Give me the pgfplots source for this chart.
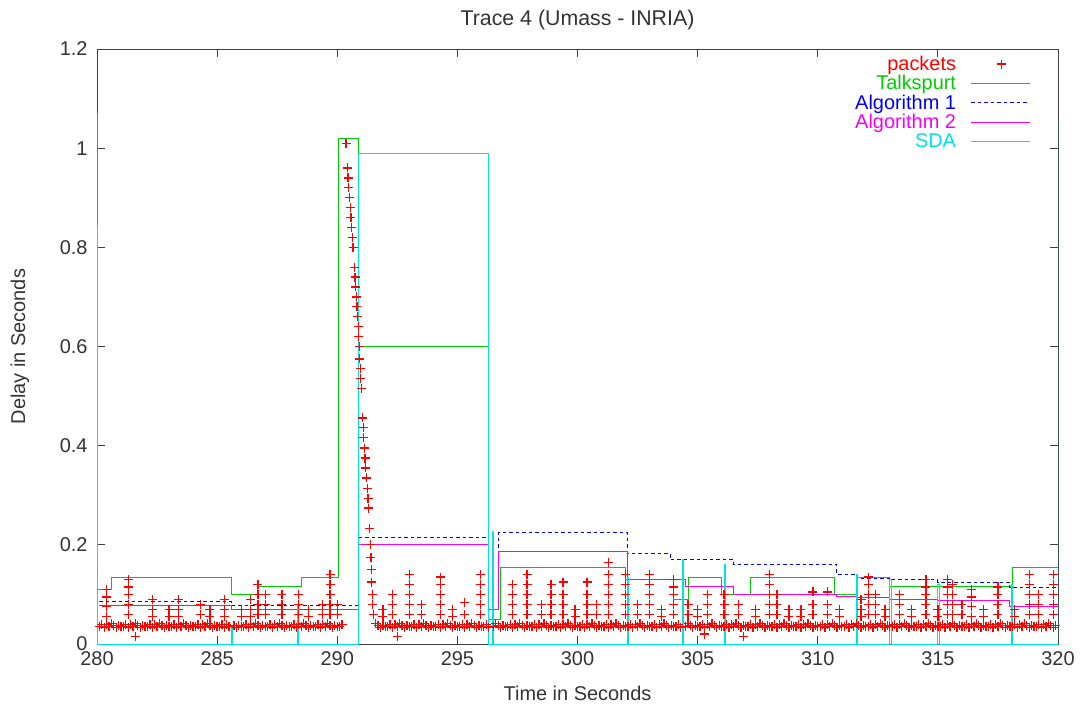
\documentclass[border=0pt]{standalone}
\usepackage{pgfplots}
\pgfplotsset{compat=1.18}
\usepackage{fontspec}
\setmainfont{Liberation Sans}

\definecolor{gpred}{RGB}{255,0,0}
\definecolor{gpgreen}{RGB}{0,205,0}
\definecolor{gpblue}{RGB}{0,0,245}
\definecolor{gpmagenta}{RGB}{245,0,245}
\definecolor{gpcyan}{RGB}{0,225,225}

\pgfplotsset{
  gpline/.style={legend image code/.code={\path (0cm,0cm); \draw[##1] (0.45cm,0cm) -- (2.5cm,0cm);}},
  gpmark/.style={legend image code/.code={\path (0cm,0cm) (2.5cm,0cm); \draw[##1] plot[only marks] coordinates {(1.5cm,0cm)};}},
}

\begin{document}
\begin{tikzpicture}
\begin{axis}[
  scale only axis,
  width=961bp, height=595bp,
  xmin=280, xmax=320, ymin=0, ymax=1.2,
  xtick={280,285,...,320},
  ytick={0,0.2,0.4,0.6,0.8,1,1.2},
  yticklabels={0,0.2,0.4,0.6,0.8,1,1.2},
  tick align=inside,
  major tick length=8bp,
  xtick pos=both, ytick pos=both,
  axis line style={black!75, line width=0.8bp},
  every tick/.style={black!75, line width=0.8bp},
  /pgf/number format/assume math mode=true,
  tick label style={font=\fontsize{20}{24}\selectfont, text=black!80},
  xticklabel style={yshift=-4bp},
  yticklabel style={xshift=-6bp},
  title={Trace 4 (Umass - INRIA)},
  title style={font=\fontsize{21.4}{25}\selectfont, text=black!80,
    at={(axis description cs:0.5,1)}, anchor=center, yshift=23bp},
  xlabel={Time in Seconds},
  xlabel style={font=\fontsize{20}{24}\selectfont, text=black!80,
    at={(axis description cs:0.5,0)}, anchor=center, yshift=-49bp},
  ylabel={Delay in Seconds},
  ylabel style={font=\fontsize{20}{24}\selectfont, text=black!80,
    at={(axis description cs:0,0.5)}, anchor=center, yshift=77bp},
  legend plot pos=right,
  legend cell align=right,
  legend style={draw=none, fill=none, at={(axis cs:318.85,1.19)}, anchor=north east,
    font=\fontsize{20}{19}\selectfont, row sep=-0.6bp, inner sep=0pt},
]

% packets: baseline queue delay, small jitter bursts and the large delay spike
\addplot[only marks, mark=+, mark size=4.5bp, gpred, line width=1.3bp, gpmark]
coordinates {
(280.1,.036)(280.2,.040)(280.3,.034)(280.4,.039)(280.5,.035)(280.6,.041)(280.7,.037)(280.8,.033)(280.9,.038)(281.0,.036)
(281.1,.036)(281.2,.040)(281.3,.034)(281.4,.039)(281.5,.035)(281.6,.041)(281.7,.037)(281.8,.033)(281.9,.038)(282.0,.036)
(282.1,.036)(282.2,.040)(282.3,.034)(282.4,.039)(282.5,.035)(282.6,.041)(282.7,.037)(282.8,.033)(282.9,.038)(283.0,.036)
(283.1,.036)(283.2,.040)(283.3,.034)(283.4,.039)(283.5,.035)(283.6,.041)(283.7,.037)(283.8,.033)(283.9,.038)(284.0,.036)
(284.1,.036)(284.2,.040)(284.3,.034)(284.4,.039)(284.5,.035)(284.6,.041)(284.7,.037)(284.8,.033)(284.9,.038)(285.0,.036)
(285.1,.036)(285.2,.040)(285.3,.034)(285.4,.039)(285.5,.035)(285.7,.037)(285.8,.033)(285.9,.038)(286.0,.036)
(286.1,.036)(286.2,.040)(286.3,.034)(286.4,.039)(286.5,.035)(286.6,.041)(286.7,.037)(286.8,.033)(286.9,.038)(287.0,.036)
(287.1,.036)(287.2,.040)(287.3,.034)(287.4,.039)(287.5,.035)(287.6,.041)(287.7,.037)(287.8,.033)(287.9,.038)(288.0,.036)
(288.1,.036)(288.2,.040)(288.3,.034)(288.4,.039)(288.5,.035)(288.6,.041)(288.7,.037)(288.8,.033)(288.9,.038)(289.0,.036)
(289.1,.036)(289.2,.040)(289.3,.034)(289.4,.039)(289.5,.035)(289.6,.041)(289.7,.037)(289.8,.033)(289.9,.038)(290.0,.036)
(290.1,.036)(290.2,.040)
(291.6,.041)(291.7,.037)(291.8,.033)(291.9,.038)(292.0,.036)
(292.1,.036)(292.2,.040)(292.3,.034)(292.4,.039)(292.5,.035)(292.6,.041)(292.7,.037)(292.8,.033)(292.9,.038)(293.0,.036)
(293.1,.036)(293.2,.040)(293.3,.034)(293.4,.039)(293.5,.035)(293.6,.041)(293.7,.037)(293.8,.033)(293.9,.038)(294.0,.036)
(294.1,.036)(294.2,.040)(294.3,.034)(294.4,.039)(294.5,.035)(294.6,.041)(294.7,.037)(294.8,.033)(294.9,.038)(295.0,.036)
(295.1,.036)(295.2,.040)(295.3,.034)(295.4,.039)(295.5,.035)(295.6,.041)(295.7,.037)(295.8,.033)(295.9,.038)(296.0,.036)
(296.1,.036)(296.2,.040)(296.3,.034)(296.5,.035)(296.6,.041)(296.7,.037)(296.8,.033)(296.9,.038)(297.0,.036)
(297.1,.036)(297.2,.040)(297.3,.034)(297.4,.039)(297.5,.035)(297.6,.041)(297.7,.037)(297.8,.033)(297.9,.038)(298.0,.036)
(298.1,.036)(298.2,.040)(298.3,.034)(298.4,.039)(298.5,.035)(298.6,.041)(298.7,.037)(298.8,.033)(298.9,.038)(299.0,.036)
(299.1,.036)(299.2,.040)(299.3,.034)(299.4,.039)(299.5,.035)(299.6,.041)(299.7,.037)(299.8,.033)(299.9,.038)(300.0,.036)
(300.1,.036)(300.2,.040)(300.3,.034)(300.4,.039)(300.5,.035)(300.6,.041)(300.7,.037)(300.8,.033)(300.9,.038)(301.0,.036)
(301.1,.036)(301.2,.040)(301.3,.034)(301.4,.039)(301.5,.035)(301.6,.041)(301.7,.037)(301.8,.033)(301.9,.038)(302.0,.036)
(302.1,.036)(302.2,.040)(302.3,.034)(302.4,.039)(302.5,.035)(302.6,.041)(302.7,.037)(302.8,.033)(302.9,.038)(303.0,.036)
(303.1,.036)(303.2,.040)(303.3,.034)(303.4,.039)(303.5,.035)(303.6,.041)(303.7,.037)(303.8,.033)(303.9,.038)(304.0,.036)
(304.1,.036)(304.2,.040)(304.3,.034)(304.5,.035)(304.6,.041)(304.7,.037)(304.8,.033)(304.9,.038)(305.0,.036)
(305.1,.036)(305.2,.040)(305.3,.034)(305.4,.039)(305.5,.035)(305.6,.041)(305.7,.037)(305.8,.033)(305.9,.038)(306.0,.036)
(306.1,.036)(306.2,.040)(306.3,.034)(306.4,.039)(306.5,.035)(306.6,.041)(306.7,.037)(306.8,.033)(306.9,.038)(307.0,.036)
(307.1,.036)(307.2,.040)(307.3,.034)(307.4,.039)(307.5,.035)(307.6,.041)(307.7,.037)(307.8,.033)(307.9,.038)(308.0,.036)
(308.1,.036)(308.2,.040)(308.3,.034)(308.4,.039)(308.5,.035)(308.6,.041)(308.7,.037)(308.8,.033)(308.9,.038)(309.0,.036)
(309.1,.036)(309.2,.040)(309.3,.034)(309.4,.039)(309.5,.035)(309.6,.041)(309.7,.037)(309.8,.033)(309.9,.038)(310.0,.036)
(310.1,.036)(310.2,.040)(310.3,.034)(310.4,.039)(310.5,.035)(310.6,.041)(310.7,.037)(310.8,.033)(310.9,.038)(311.0,.036)
(311.1,.036)(311.2,.040)(311.3,.034)(311.4,.039)(311.5,.035)(311.6,.041)(311.7,.037)(311.8,.033)(311.9,.038)(312.0,.036)
(312.1,.036)(312.2,.040)(312.3,.034)(312.4,.039)(312.5,.035)(312.6,.041)(312.7,.037)(312.8,.033)(312.9,.038)(313.0,.036)
(313.1,.036)(313.2,.040)(313.3,.034)(313.4,.039)(313.5,.035)(313.6,.041)(313.7,.037)(313.8,.033)(313.9,.038)(314.0,.036)
(314.1,.036)(314.2,.040)(314.3,.034)(314.4,.039)(314.5,.035)(314.6,.041)(314.7,.037)(314.8,.033)(314.9,.038)(315.0,.036)
(315.1,.036)(315.2,.040)(315.3,.034)(315.4,.039)(315.5,.035)(315.6,.041)(315.7,.037)(315.8,.033)(315.9,.038)(316.0,.036)
(316.1,.036)(316.2,.040)(316.3,.034)(316.4,.039)(316.5,.035)(316.6,.041)(316.7,.037)(316.8,.033)(316.9,.038)(317.0,.036)
(317.1,.036)(317.2,.040)(317.3,.034)(317.4,.039)(317.5,.035)(317.6,.041)(317.7,.037)(317.8,.033)(317.9,.038)(318.0,.036)
(318.1,.036)(318.2,.040)(318.3,.034)(318.4,.039)(318.5,.035)(318.6,.041)(318.7,.037)(318.8,.033)(318.9,.038)(319.0,.036)
(319.1,.036)(319.2,.040)(319.3,.034)(319.4,.039)(319.5,.035)(319.6,.041)(319.7,.037)(319.8,.033)(319.9,.038)
(280.4,.055)(280.4,.075)(280.4,.095)(280.4,.11)
(281.3,.06)(281.3,.08)(281.3,.1)(281.3,.115)(281.3,.13)
(281.6,.015)
(282.3,.055)(282.3,.07)(282.3,.09)
(283.0,.055)(283.0,.07)
(283.4,.055)(283.4,.07)(283.4,.09)
(284.3,.06)(284.3,.08)
(284.7,.055)(284.7,.07)
(285.3,.055)(285.3,.07)(285.3,.09)
(286.0,.055)(286.0,.07)
(286.4,.055)(286.4,.07)(286.4,.09)
(286.7,.06)(286.7,.08)(286.7,.1)(286.7,.12)
(287.0,.06)(287.0,.08)(287.0,.1)
(287.7,.06)(287.7,.08)(287.7,.1)
(288.4,.06)(288.4,.08)(288.4,.1)
(288.8,.055)(288.8,.07)
(289.4,.06)(289.4,.08)
(289.7,.06)(289.7,.08)(289.7,.1)(289.7,.12)(289.7,.14)
(290.0,.06)(290.0,.08)
(290.37,1.01)(290.42,.96)(290.45,.94)(290.48,.92)(290.51,.90)(290.54,.88)(290.57,.86)(290.60,.84)(290.63,.82)(290.66,.80)
(290.72,.76)(290.74,.74)(290.77,.72)(290.79,.70)(290.82,.68)(290.85,.66)(290.87,.64)(290.89,.62)(290.92,.60)
(290.94,.575)(290.96,.555)(290.98,.535)(291.00,.515)
(291.05,.456)(291.08,.436)(291.10,.416)(291.13,.395)(291.16,.375)(291.19,.355)(291.22,.335)(291.25,.314)(291.28,.294)(291.31,.274)
(291.35,.233)(291.38,.20)(291.40,.175)(291.42,.15)(291.44,.125)(291.46,.10)(291.48,.08)(291.50,.06)
(291.9,.055)(291.9,.07)
(292.3,.06)(292.3,.08)(292.3,.1)
(292.5,.015)
(293.0,.06)(293.0,.08)(293.0,.1)(293.0,.12)(293.0,.14)
(293.5,.06)(293.5,.08)
(294.3,.06)(294.3,.08)(294.3,.1)(294.3,.12)(294.3,.135)
(294.8,.055)(294.8,.07)
(295.3,.06)(295.3,.083)
(295.95,.06)(295.95,.08)(295.95,.1)(295.95,.12)(295.95,.14)
(297.3,.06)(297.3,.08)(297.3,.1)(297.3,.12)
(297.9,.06)(297.9,.08)(297.9,.1)(297.9,.12)(297.9,.14)
(298.5,.06)(298.5,.08)
(298.9,.06)(298.9,.08)(298.9,.1)(298.9,.12)
(299.4,.06)(299.4,.08)(299.4,.1)(299.4,.125)
(299.9,.055)(299.9,.07)
(300.4,.06)(300.4,.08)(300.4,.1)(300.4,.125)
(300.8,.06)(300.8,.08)
(301.3,.06)(301.3,.08)(301.3,.1)(301.3,.12)(301.3,.14)(301.3,.165)
(302.0,.06)(302.0,.08)(302.0,.1)(302.0,.12)(302.0,.14)
(302.5,.06)(302.5,.08)
(303.0,.06)(303.0,.08)(303.0,.1)(303.0,.12)(303.0,.14)
(303.5,.055)(303.5,.07)
(304.0,.06)(304.0,.08)(304.0,.1)(304.0,.115)(304.0,.13)
(304.6,.06)(304.6,.08)
(305.0,.055)(305.0,.07)
(305.3,.02)
(305.4,.06)(305.4,.08)(305.4,.1)
(306.1,.06)(306.1,.08)(306.1,.1)
(306.7,.06)(306.7,.08)
(306.9,.015)
(307.4,.055)(307.4,.07)
(308.0,.06)(308.0,.08)(308.0,.1)(308.0,.12)(308.0,.14)
(308.3,.06)(308.3,.08)(308.3,.1)
(308.8,.055)(308.8,.07)
(309.3,.055)(309.3,.07)
(309.8,.06)(309.8,.08)(309.8,.105)
(310.4,.06)(310.4,.08)(310.4,.105)
(310.9,.055)(310.9,.07)
(311.8,.055)(311.8,.07)(311.8,.09)
(312.1,.06)(312.1,.08)(312.1,.1)(312.1,.12)(312.1,.135)
(312.4,.06)(312.4,.08)(312.4,.1)
(312.8,.055)(312.8,.07)
(313.4,.06)(313.4,.08)(313.4,.1)
(313.9,.055)(313.9,.07)
(314.5,.06)(314.5,.08)(314.5,.1)(314.5,.115)(314.5,.13)
(315.0,.055)(315.0,.07)
(315.4,.06)(315.4,.08)(315.4,.1)(315.4,.115)(315.4,.13)
(315.6,.06)(315.6,.08)(315.6,.1)(315.6,.12)
(316.0,.06)(316.0,.08)
(316.4,.055)(316.4,.075)(316.4,.095)(316.4,.11)
(316.9,.055)(316.9,.07)
(317.5,.06)(317.5,.08)(317.5,.1)(317.5,.115)
(318.2,.055)(318.2,.07)
(318.8,.06)(318.8,.08)(318.8,.1)(318.8,.12)(318.8,.14)
(319.2,.06)(319.2,.08)(319.2,.1)
(319.8,.06)(319.8,.08)(319.8,.1)(319.8,.12)(319.8,.14)
};
\addlegendentry{\textcolor{gpred}{packets}}

% Talkspurt playout delay
\addplot[const plot, gpgreen, line width=1bp, no marks, gpline]
coordinates {
(280.0,1.07)(280.03,.11)(280.6,.135)(285.6,.10)(286.7,.115)(288.5,.135)
(290.07,1.02)(290.87,.60)(296.3,.05)(296.8,.155)(302.0,.13)(304.0,.09)
(304.6,.135)(306.0,.10)(307.2,.135)(310.7,.10)(311.6,.135)(313.0,.115)
(318.1,.155)(320.0,.155)
};
\addlegendentry{\textcolor{gpgreen}{Talkspurt}}

% Algorithm 1 playout delay
\addplot[const plot, gpblue, line width=1bp, no marks, dash pattern=on 3.5bp off 3bp, gpline]
coordinates {
(280.1,.085)(285.6,.077)(290.9,.215)(296.3,.07)(296.7,.224)(302.1,.183)
(303.85,.17)(306.5,.16)(310.8,.14)(311.6,.133)(313.0,.13)(315.0,.125)
(318.0,.113)(320.0,.113)
};
\addlegendentry{\textcolor{gpblue}{Algorithm 1}}

% Algorithm 2 playout delay
\addplot[const plot, gpmagenta, line width=1bp, no marks, gpline]
coordinates {
(280.1,.078)(285.6,.07)(290.9,.20)(296.3,.07)(296.7,.187)(302.1,.13)
(304.5,.115)(306.5,.10)(310.8,.095)(311.6,.093)(313.0,.09)(315.0,.088)
(318.0,.075)(320.0,.075)
};
\addlegendentry{\textcolor{gpmagenta}{Algorithm 2}}

% SDA playout delay
\addplot[const plot, gpcyan, line width=1bp, no marks, gpline]
coordinates {
(280.0,.845)(280.03,0)(285.6,.035)(285.65,0)(288.35,.08)(288.4,0)
(290.87,.99)(296.28,0)(296.45,.226)(296.5,0)(302.07,.135)(302.12,0)
(304.35,.17)(304.4,0)(306.1,.16)(306.15,0)(311.6,.14)(311.65,0)
(313.0,.13)(313.05,0)(315.0,.12)(315.05,0)(318.05,.12)(318.1,0)
(320.0,1.06)
};
\addlegendentry{\textcolor{gpcyan}{SDA}}

\end{axis}
\pgfresetboundingbox
\path ([shift={(-97bp,-62bp)}]current axis.south west)
  rectangle ([shift={(22bp,49bp)}]current axis.north east);
\end{tikzpicture}
\end{document}
